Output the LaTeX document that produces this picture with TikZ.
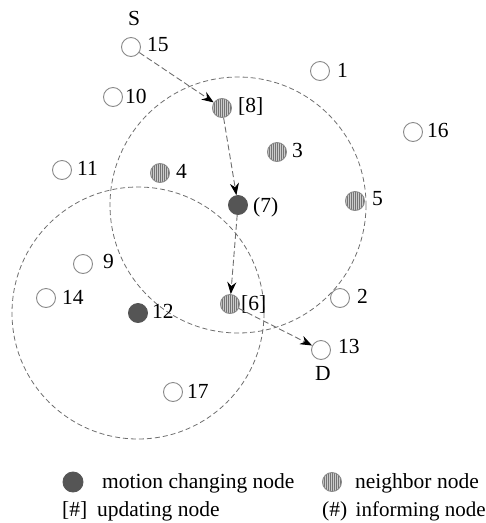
\documentclass[tikz,border=0pt]{standalone}
\usepackage{fontspec}
\setmainfont{Liberation Serif}
\usetikzlibrary{arrows.meta}
\definecolor{ringgray}{HTML}{8A8A8A}
\definecolor{darkfill}{HTML}{555555}
\definecolor{hatchfill}{HTML}{CCCCCC}
\definecolor{hatchline}{HTML}{747474}
\definecolor{linkgray}{HTML}{6E6E6E}
\tikzset{
  plain/.style={circle, draw=ringgray, line width=0.9pt, minimum size=19pt, inner sep=0pt},
  mover/.style={circle, draw=darkfill, fill=darkfill, line width=0.9pt, minimum size=19pt, inner sep=0pt},
  neigh/.style={circle, draw=ringgray, fill=hatchfill, line width=0.9pt, minimum size=19pt, inner sep=0pt,
    path picture={
      \foreach \k in {-10,-8,...,10}
        \draw[hatchline, line width=0.6pt] ([xshift=\k pt]path picture bounding box.south) -- ([xshift=\k pt]path picture bounding box.north);
    }},
  tag/.style={anchor=base west, inner sep=0pt, font=\fontsize{21.5}{26}\selectfont},
  txrange/.style={draw=linkgray, dash pattern=on 5pt off 3pt, line width=0.8pt},
  hop/.style={draw=linkgray, dash pattern=on 6pt off 3pt, line width=0.9pt,
    -{Stealth[length=12pt, width=9pt, color=black]}},
}
\begin{document}
\begin{tikzpicture}[x=1pt, y=-1pt]
\useasboundingbox (0,0) rectangle (486,523);

% transmission ranges
\draw[txrange] (238,205) circle (128);
\draw[txrange] (138,313) circle (126);

% nodes
\node[plain] (n15) at (131,47) {};
\node[plain] (n10) at (113,97) {};
\node[plain] (n1)  at (320,71) {};
\node[plain] (n16) at (413,132) {};
\node[plain] (n11) at (62,170) {};
\node[neigh] (n4)  at (160,173) {};
\node[neigh] (n3)  at (277,152) {};
\node[neigh] (n8)  at (222,108) {};
\node[mover] (n7)  at (238,205) {};
\node[neigh] (n5)  at (355,201) {};
\node[plain] (n9)  at (83,264) {};
\node[plain] (n14) at (46,298) {};
\node[mover] (n12) at (138,313) {};
\node[neigh] (n6)  at (230,304) {};
\node[plain] (n2)  at (340,298) {};
\node[plain] (n13) at (321,350) {};
\node[plain] (n17) at (173,392) {};

% node labels (baseline positions)
\node[tag] (l15) at (147,51) {15};
\node[tag] (l10) at (125,103) {10};
\node[tag] (l1)  at (337,77) {1};
\node[tag] (l16) at (427,137) {16};
\node[tag] (l11) at (77,175) {11};
\node[tag] (l4)  at (176,178) {4};
\node[tag] (l3)  at (292,157) {3};
\node[tag] (l8)  at (238,112) {[8]};
\node[tag] (l7)  at (253,212) {(7)};
\node[tag] (l5)  at (372,205) {5};
\node[tag] (l9)  at (103,268) {9};
\node[tag] (l14) at (62,304) {14};
\node[tag] (l12) at (152,318) {12};
\node[tag] (l6)  at (241,310) {[6]};
\node[tag] (l2)  at (357,303) {2};
\node[tag] (l13) at (338,353) {13};
\node[tag] (l17) at (187,398) {17};
\node[tag, anchor=base] (ls) at (134,25) {S};
\node[tag, anchor=base] (ld) at (323,380) {D};

% forwarding path
\draw[hop] (n15) -- (n8);
\draw[hop] (n8) -- (n7);
\draw[hop] (n7) -- (n6);
\draw[hop] (n6) -- (n13);

% legend
\node[mover, minimum size=20pt] (k1) at (73,482) {};
\node[tag] (k1t) at (102,488) {motion changing node};
\node[neigh] (k2) at (332,482) {};
\node[tag] (k2t) at (355,488) {neighbor node};
\node[tag] (k3) at (62,516) {[\#]};
\node[tag] (k3t) at (97,516) {updating node};
\node[tag] (k4) at (322,516) {(\#)};
\node[tag, font=\fontsize{21}{26}\selectfont] (k4t) at (355.5,516) {informing node};
\end{tikzpicture}
\end{document}
